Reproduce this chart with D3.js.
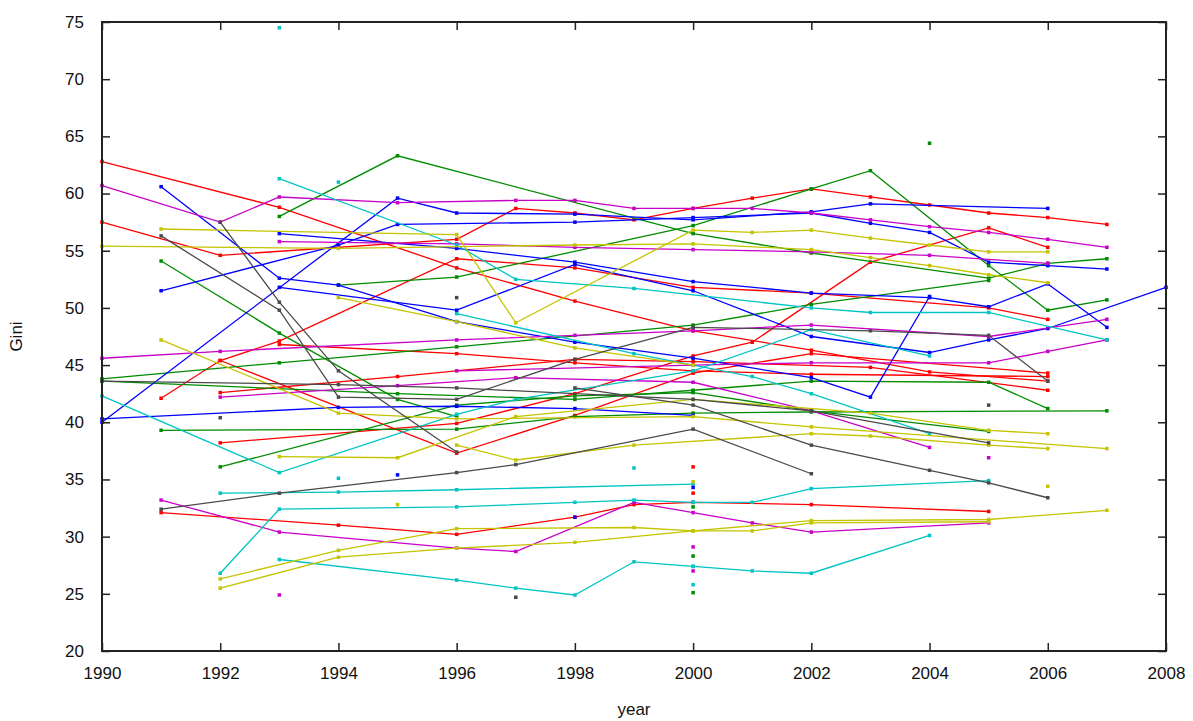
<!DOCTYPE html>
<html>
<head>
<meta charset="utf-8">
<script src="https://cdn.jsdelivr.net/npm/d3@7"></script>
<style>
  body { margin: 0; background: #fff; }
  svg text { font-family: "Liberation Sans", Arial, sans-serif; fill: #111; }
</style>
</head>
<body>
<div id="vis"></div>
<script>
// gnuplot-like palette
const palette = {
  red: '#ff0000', green: '#008c00', blue: '#0000ff', magenta: '#c800c8',
  cyan: '#00c4c4', olive: '#c4c400', gray: '#4a4a4a'
}

const xTicks = [1990, 1992, 1994, 1996, 1998, 2000, 2002, 2004, 2006, 2008]
const yTicks = [20, 25, 30, 35, 40, 45, 50, 55, 60, 65, 70, 75]

// each series: [[year, gini], ...]
const redSeries = [
  [[1990,62.8],[1993,58.8],[1996,53.5],[1998,50.6],[2000,48.0],[2002,46.3],[2004,44.4],[2006,43.6]],
  [[1990,57.5],[1992,54.6],[1996,56.0],[1997,58.7],[1998,58.3],[1999,57.7],[2000,58.7],[2001,59.6],[2002,60.4],[2003,59.7],[2004,59.0],[2005,58.3],[2006,57.9],[2007,57.3]],
  [[1991,42.1],[1992,45.4],[1993,47.1],[1996,54.3],[1998,53.5],[2000,51.8],[2002,51.3],[2005,50.0],[2006,49.0]],
  [[1992,45.4],[1996,37.3],[1998,40.6],[2000,44.3],[2002,46.0],[2006,44.3]],
  [[1992,38.2],[1996,39.9],[1998,42.5],[2000,45.8],[2001,47.0],[2003,54.0],[2005,57.0],[2006,55.3]],
  [[1991,32.1],[1994,31.0],[1996,30.2],[1998,31.7],[1999,32.8],[2000,33.0],[2002,32.8],[2005,32.2]],
  [[1992,42.6],[1995,44.0],[1998,45.5],[2000,45.3],[2003,44.8],[2006,42.8]],
  [[1993,46.8],[1996,46.0],[1998,45.2],[2000,44.5],[2002,44.2],[2006,44.0]]
]
const greenSeries = [
  [[1993,58.0],[1995,63.3],[2000,56.5],[2002,54.8],[2005,52.6],[2006,53.9],[2007,54.3]],
  [[1994,52.0],[1996,52.7],[2000,57.2],[2002,60.4],[2003,62.0],[2005,53.7],[2006,49.8],[2007,50.7]],
  [[1991,54.1],[1993,47.8],[1995,42.0],[1996,40.5]],
  [[1992,36.1],[1996,41.5],[1998,42.3],[2000,42.6],[2002,41.0],[2005,39.2]],
  [[1991,39.3],[1996,39.4],[1998,40.5],[2000,40.8],[2002,40.9],[2007,41.0]],
  [[1990,43.8],[1993,45.2],[1996,46.6],[2000,48.5],[2002,50.3],[2005,52.4]],
  [[1990,43.6],[1995,42.5],[1998,42.0],[2000,42.8],[2002,43.6],[2005,43.5],[2006,41.2]]
]
const blueSeries = [
  [[1990,40.0],[1995,59.6],[1996,58.3],[1998,58.2],[2000,57.7],[2002,58.4],[2003,59.1],[2006,58.7]],
  [[1991,60.6],[1993,52.6],[1994,52.0],[1996,48.8],[1998,47.0],[2000,45.6],[2002,43.9],[2003,42.2],[2004,51.0]],
  [[1991,51.5],[1994,55.5],[1995,57.3],[1998,57.5],[2000,57.9],[2002,58.3],[2003,57.4],[2004,56.6],[2005,54.0],[2006,53.7],[2007,53.4]],
  [[1993,56.5],[1996,55.2],[1998,54.0],[2000,52.3],[2002,51.3],[2004,50.9],[2005,50.1],[2006,52.1],[2007,48.3]],
  [[1990,40.3],[1994,41.3],[1996,41.4],[1998,41.2],[2000,40.6]],
  [[1993,51.8],[1996,49.8],[1998,53.8],[2000,51.5],[2002,47.5],[2004,46.1],[2005,47.2],[2006,48.2],[2008,51.8]]
]
const magentaSeries = [
  [[1990,60.7],[1992,57.5],[1993,59.7],[1995,59.2],[1997,59.4],[1998,59.4],[1999,58.7],[2000,58.7],[2001,58.7],[2002,58.3],[2003,57.7],[2004,57.1],[2005,56.6],[2006,56.0],[2007,55.3]],
  [[1990,45.6],[1992,46.2],[1996,47.2],[1998,47.6],[2000,48.0],[2002,48.5],[2005,47.5],[2007,49.0]],
  [[1996,44.5],[2000,45.0],[2002,45.2],[2005,45.2],[2006,46.2],[2007,47.2]],
  [[1991,33.2],[1993,30.4],[1996,29.0],[1997,28.7],[1999,33.0],[2000,32.1],[2001,31.2],[2002,30.4],[2005,31.2]],
  [[1992,42.2],[1995,43.2],[1997,43.9],[2000,43.5],[2002,41.0],[2004,37.8]],
  [[1993,55.8],[1996,55.6],[1998,55.3],[2000,55.1],[2002,54.9],[2004,54.6],[2006,53.9]]
]
const cyanSeries = [
  [[1993,61.3],[1996,55.5],[1997,52.5],[1999,51.7],[2002,50.0],[2003,49.6],[2005,49.6],[2007,47.2]],
  [[1992,26.8],[1993,32.4],[1996,32.6],[1998,33.0],[1999,33.2],[2000,33.0],[2001,33.0],[2002,34.2],[2005,34.9]],
  [[1992,33.8],[1994,33.9],[1996,34.1],[2000,34.6]],
  [[1993,28.0],[1996,26.2],[1997,25.5],[1998,24.9],[1999,27.8],[2000,27.4],[2001,27.0],[2002,26.8],[2004,30.1]],
  [[1990,42.3],[1993,35.6],[1996,40.7],[1997,42.0],[2000,44.5],[2002,48.1],[2004,45.8]],
  [[1996,49.5],[1999,46.0],[2001,44.0],[2002,42.5],[2004,39.0]]
]
const oliveSeries = [
  [[1991,56.9],[1996,56.4],[1997,48.7],[2000,56.8],[2001,56.6],[2002,56.8],[2003,56.1],[2004,55.5],[2005,54.9],[2006,54.9]],
  [[1990,55.4],[1994,55.2],[1998,55.5],[2000,55.6],[2002,55.1],[2003,54.4],[2004,53.7],[2005,52.9],[2006,52.2]],
  [[1991,47.2],[1994,40.8],[1996,40.3],[2000,40.5],[2002,39.6],[2007,37.7]],
  [[1993,37.0],[1995,36.9],[1997,40.5],[2000,42.0],[2003,40.8],[2005,39.3],[2006,39.0]],
  [[1996,38.0],[1997,36.7],[1999,38.0],[2002,39.0],[2003,38.8],[2005,38.0],[2006,37.7]],
  [[1992,26.3],[1994,28.8],[1996,30.7],[1999,30.8],[2000,30.5],[2001,30.5],[2002,31.2],[2005,31.3]],
  [[1992,25.5],[1994,28.2],[1996,29.0],[1998,29.5],[2000,30.5],[2002,31.4],[2005,31.5],[2007,32.3]],
  [[1994,50.9],[1996,48.8],[1998,46.5],[2000,45.0]]
]
const graySeries = [
  [[1991,32.4],[1993,33.8],[1996,35.6],[1997,36.3],[2000,39.4],[2002,35.5]],
  [[1998,43.0],[2000,41.5],[2002,38.0],[2004,35.8],[2005,34.7],[2006,33.4]],
  [[1992,57.5],[1993,50.5],[1994,44.5],[1996,37.4]],
  [[1991,56.3],[1993,49.8],[1994,42.2],[1996,42.0],[1998,45.5],[2000,48.3],[2003,48.0],[2005,47.6],[2006,43.6]],
  [[1990,43.6],[1994,43.3],[1996,43.0],[2000,42.0],[2002,41.0],[2005,38.2]]
]

// single observations drawn as dots only: [colour, year, gini]
const singlePoints = [
  ['cyan',1993,74.5],['green',2004,64.4],['cyan',1994,61.0],['gray',1996,50.9],['gray',1992,40.4],
  ['gray',1997,24.7],['gray',2005,41.5],['magenta',1993,24.9],['cyan',1994,35.1],['blue',1995,35.4],
  ['olive',1995,32.8],['cyan',1999,36.0],['blue',1998,31.7],['magenta',2005,36.9],['olive',2006,34.4],
  ['red',2000,36.1],['olive',2000,34.8],['blue',2000,34.3],['red',2000,33.8],['cyan',2000,33.0],
  ['green',2000,32.6],['magenta',2000,29.1],['green',2000,28.3],['cyan',2000,27.4],['magenta',2000,27.0],
  ['cyan',2000,25.8],['green',2000,25.1]
]

const groups = [
  ['red', redSeries], ['green', greenSeries], ['blue', blueSeries], ['magenta', magentaSeries],
  ['cyan', cyanSeries], ['olive', oliveSeries], ['gray', graySeries]
]

draw()

function draw() {
  const outerWidth = 1193
  const outerHeight = 721
  const margin = { left: 102, top: 22, right: 27, bottom: 70 }
  const innerWidth = outerWidth - margin.left - margin.right
  const innerHeight = outerHeight - margin.top - margin.bottom

  const svg = d3.select('#vis').append('svg')
    .attr('width', outerWidth).attr('height', outerHeight)

  const g = svg.append('g').attr('transform', `translate(${margin.left},${margin.top})`)

  const xScale = d3.scaleLinear().domain([1990, 2008]).range([0, innerWidth])
  const yScale = d3.scaleLinear().domain([20, 75]).range([innerHeight, 0])

  const line = d3.line().x(d => xScale(d[0])).y(d => yScale(d[1]))

  // lines and their point markers
  const plot = g.append('g').attr('class', 'plot')
  groups.forEach(([name, list]) => {
    list.forEach(pts => {
      plot.append('path')
        .datum(pts)
        .attr('d', line)
        .attr('fill', 'none')
        .attr('stroke', palette[name])
        .attr('stroke-width', 1.3)
      plot.selectAll(null).data(pts).enter().append('rect')
        .attr('x', d => xScale(d[0]) - 1.75)
        .attr('y', d => yScale(d[1]) - 1.75)
        .attr('width', 3.5).attr('height', 3.5)
        .attr('fill', palette[name])
    })
  })

  plot.selectAll('rect.single').data(singlePoints).enter().append('rect')
    .attr('class', 'single')
    .attr('x', d => xScale(d[1]) - 1.75)
    .attr('y', d => yScale(d[2]) - 1.75)
    .attr('width', 3.5).attr('height', 3.5)
    .attr('fill', d => palette[d[0]])

  // axes: gnuplot style, ticks pointing inward on all four sides
  const tickLen = 8
  const xAxisG = g.append('g').attr('transform', `translate(0,${innerHeight})`)
    .call(d3.axisBottom(xScale).tickValues(xTicks).tickFormat(d3.format('d')).tickSize(-tickLen).tickPadding(tickLen + 8))
  const xTopG = g.append('g')
    .call(d3.axisTop(xScale).tickValues(xTicks).tickSize(-tickLen).tickFormat(''))
  const yAxisG = g.append('g')
    .call(d3.axisLeft(yScale).tickValues(yTicks).tickSize(-tickLen).tickPadding(tickLen + 10))
  const yRightG = g.append('g').attr('transform', `translate(${innerWidth},0)`)
    .call(d3.axisRight(yScale).tickValues(yTicks).tickSize(-tickLen).tickFormat(''))

  ;[xAxisG, xTopG, yAxisG, yRightG].forEach(a => {
    a.select('.domain').remove()
    a.selectAll('line').attr('stroke', '#222').attr('stroke-width', 1.5)
    a.selectAll('text').style('font-size', '17px').attr('fill', '#111')
  })

  g.append('rect')
    .attr('width', innerWidth).attr('height', innerHeight)
    .attr('fill', 'none').attr('stroke', '#222').attr('stroke-width', 2)

  g.append('text')
    .attr('transform', `translate(${-80},${innerHeight / 2}) rotate(-90)`)
    .attr('text-anchor', 'middle')
    .style('font-size', '17px')
    .text('Gini')

  g.append('text')
    .attr('x', innerWidth / 2)
    .attr('y', innerHeight + 64)
    .attr('text-anchor', 'middle')
    .style('font-size', '17px')
    .text('year')
}
</script>
</body>
</html>
